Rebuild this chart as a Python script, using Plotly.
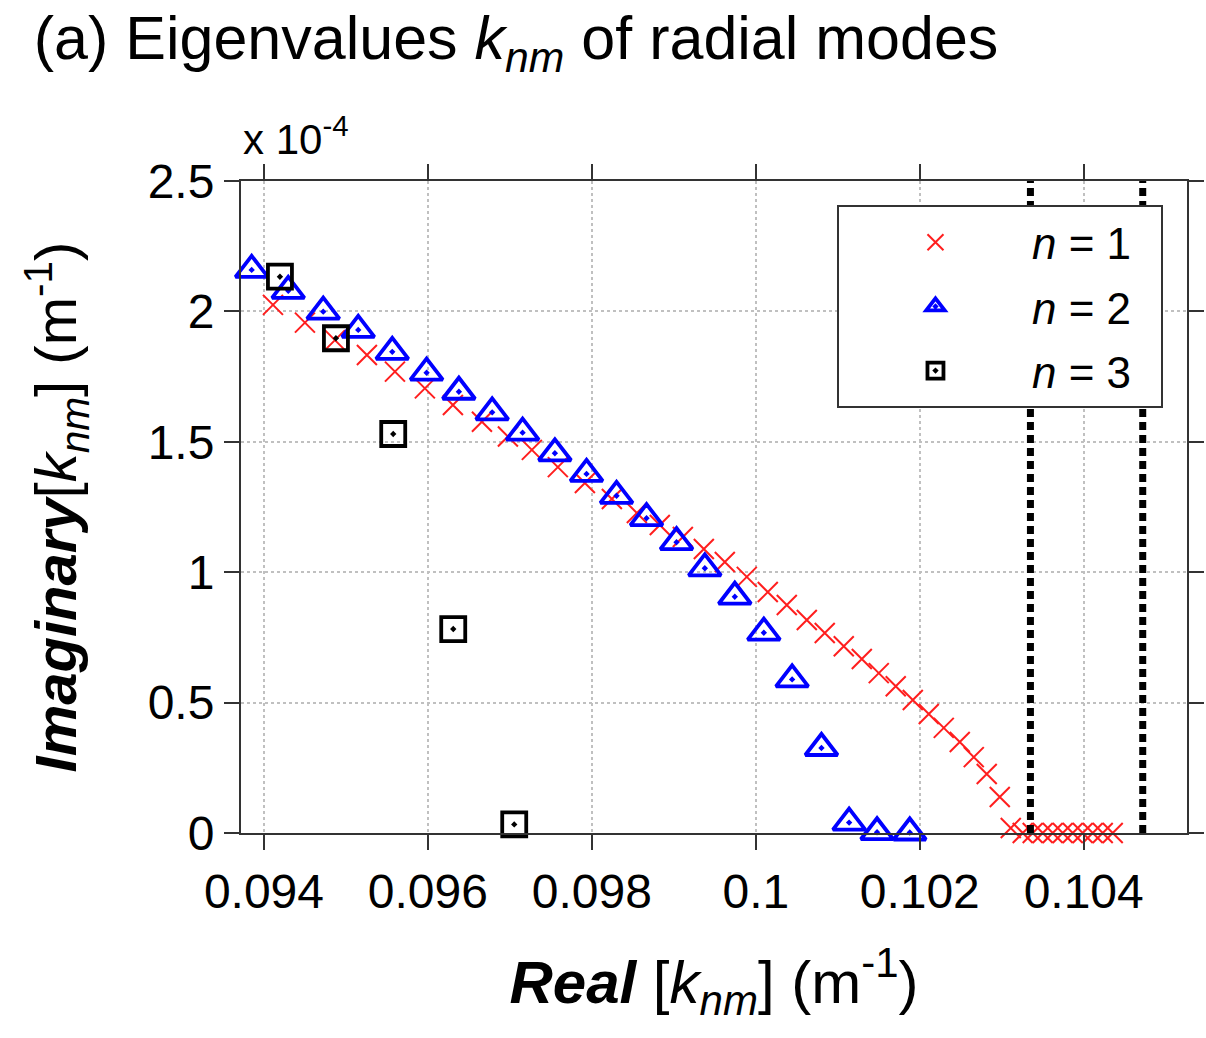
import plotly.graph_objects as go

# ---------------- data (Imag values in units of 1e-4 m^-1) ----------------
n1_real = [0.094110, 0.094500, 0.094866, 0.095256, 0.095598, 0.095963, 0.096305,
           0.096659, 0.096976, 0.097268, 0.097585, 0.097915, 0.098244, 0.098549,
           0.098829, 0.099110, 0.099366, 0.099622, 0.099890, 0.100146, 0.100378,
           0.100622, 0.100841, 0.101073, 0.101293, 0.101500, 0.101707, 0.101915,
           0.102110, 0.102293, 0.102488, 0.102659, 0.102817, 0.102976, 0.103110,
           0.103256, 0.103378, 0.103500, 0.103622, 0.103744, 0.103866, 0.103988,
           0.104110, 0.104232, 0.104354]
n1_imag = [2.025, 1.957, 1.890, 1.833, 1.769, 1.705, 1.641, 1.577, 1.520, 1.469,
           1.403, 1.342, 1.281, 1.227, 1.181, 1.135, 1.089, 1.039, 0.982, 0.924,
           0.874, 0.817, 0.767, 0.716, 0.667, 0.613, 0.563, 0.510, 0.456, 0.403,
           0.349, 0.291, 0.226, 0.138, 0.019, 0.0, 0.0, 0.0, 0.0, 0.0,
           0.0, 0.0, 0.0, 0.0, 0.0]

n2_real = [0.093850, 0.094296, 0.094723, 0.095150, 0.095565, 0.095984, 0.096378,
           0.096784, 0.097155, 0.097549, 0.097935, 0.098301, 0.098667, 0.099033,
           0.099378, 0.099744, 0.100098, 0.100443, 0.100801, 0.101138, 0.101479,
           0.101878]
n2_imag = [2.159, 2.079, 1.999, 1.929, 1.845, 1.765, 1.692, 1.613, 1.535, 1.456,
           1.377, 1.293, 1.207, 1.115, 1.015, 0.906, 0.768, 0.589, 0.326, 0.040,
           0.003, 0.002]

n3_real = [0.094195, 0.094878, 0.095577, 0.096309, 0.097053]
n3_imag = [2.133, 1.897, 1.530, 0.782, 0.033]

cutoff_real = [0.10335, 0.10472]

x_ticks = [0.094, 0.096, 0.098, 0.100, 0.102, 0.104]
x_ticklabels = ["0.094", "0.096", "0.098", "0.1", "0.102", "0.104"]
y_ticks = [0, 0.5, 1.0, 1.5, 2.0, 2.5]
y_ticklabels = ["0", "0.5", "1", "1.5", "2", "2.5"]

series_names = ["<i>n</i> = 1\u00a0\u00a0", "<i>n</i> = 2\u00a0\u00a0", "<i>n</i> = 3\u00a0\u00a0"]

FONT = "Liberation Sans, Arial, sans-serif"

fig = go.Figure()

fig.add_trace(go.Scatter(
    x=n1_real, y=n1_imag, mode="markers", name=series_names[0], legendgroup="a",
    marker=dict(symbol="x-thin-open", size=20, color="rgb(255,30,30)",
                line=dict(color="rgb(255,30,30)", width=2)),
    cliponaxis=False))
fig.add_trace(go.Scatter(
    x=n2_real, y=n2_imag, mode="markers", name=series_names[1], legendgroup="b",
    marker=dict(symbol="triangle-up-open-dot", size=28, color="rgb(0,0,255)",
                line=dict(color="rgb(0,0,255)", width=3.8)),
    cliponaxis=False))
fig.add_trace(go.Scatter(
    x=n3_real, y=n3_imag, mode="markers", name=series_names[2], legendgroup="c",
    marker=dict(symbol="square-open-dot", size=24, color="black",
                line=dict(color="black", width=3.8)),
    cliponaxis=False))

for xv in cutoff_real:
    fig.add_shape(type="line", xref="x", yref="y", x0=xv, x1=xv, y0=0, y1=2.5,
                  line=dict(color="black", width=7, dash="8px,5px"))

axis_common = dict(
    showline=True, linecolor="#333", linewidth=2, mirror="ticks",
    ticks="outside", ticklen=15, tickwidth=2, tickcolor="#333",
    showgrid=True, gridcolor="#c0c0c0", griddash="dot", gridwidth=1.5,
    zeroline=False, automargin=False,
    tickfont=dict(family=FONT, size=48, color="black"),
)

fig.update_xaxes(range=[0.09372, 0.10526], tickvals=x_ticks, ticktext=x_ticklabels,
                 title=dict(text="<b><i>Real</i></b> [<i>k</i><sub><i>nm</i></sub>] (m<sup>-1</sup>)",
                            font=dict(family=FONT, size=60, color="black"), standoff=44),
                 **axis_common)
fig.update_yaxes(range=[0, 2.5], tickvals=y_ticks, ticktext=y_ticklabels,
                 title=dict(text="<b><i>Imaginary</i></b>[<i>k</i><sub><i>nm</i></sub>] (m<sup>-1</sup>)",
                            font=dict(family=FONT, size=58, color="black"), standoff=52),
                 **axis_common)

fig.add_annotation(xref="paper", yref="paper", x=0.0, y=1.0, xanchor="left", yanchor="bottom",
                   yshift=16, showarrow=False,
                   text="x 10<sup>-4</sup>", font=dict(family=FONT, size=42, color="black"))

fig.update_layout(
    width=1206, height=1038,
    margin=dict(l=241, r=19, t=181, b=205),
    paper_bgcolor="white", plot_bgcolor="white",
    title=dict(text="(a) Eigenvalues <i>k</i><sub><i>nm</i></sub> of radial modes",
               x=0.028, xref="container", xanchor="left",
               y=0.964, yref="container", yanchor="middle",
               font=dict(family=FONT, size=61, color="black")),
    legend=dict(x=0.9746, xanchor="right", y=0.963, yanchor="top",
                bgcolor="white", bordercolor="#333", borderwidth=2,
                font=dict(family=FONT, size=44, color="black"),
                tracegroupgap=4, itemsizing="trace", itemwidth=183),
    showlegend=True,
)

fig.write_html("out.html", config={"displayModeBar": False},
               post_script="document.body.style.margin='0px';")
